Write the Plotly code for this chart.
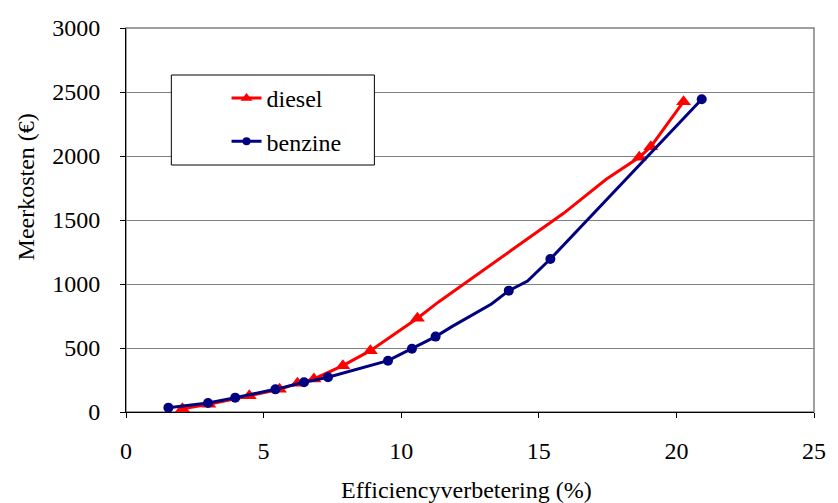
import plotly.graph_objects as go

# Diesel series (red, triangles); marked = data point shown with a marker
diesel_x = [2.05, 3.01, 4.48, 5.58, 6.23, 6.83, 7.88, 8.88, 10.59, 11.37, 15.90, 17.45, 18.65, 19.07, 20.26]
diesel_y = [25, 60, 127, 177, 224, 258, 362, 479, 732, 862, 1552, 1818, 1990, 2073, 2424]
diesel_marked = [1, 1, 1, 1, 1, 1, 1, 1, 1, 0, 0, 0, 1, 1, 1]

# Benzine series (navy, circles)
benzine_x = [1.54, 2.98, 3.97, 5.43, 6.47, 7.34, 9.52, 10.39, 11.25, 11.84, 13.28, 13.91, 14.59, 15.42, 20.92]
benzine_y = [34, 70, 112, 177, 232, 271, 401, 494, 589, 667, 844, 948, 1023, 1195, 2443]
benzine_marked = [1, 1, 1, 1, 1, 1, 1, 1, 1, 0, 0, 1, 0, 1, 1]

x_ticks = [0, 5, 10, 15, 20, 25]
y_ticks = [0, 500, 1000, 1500, 2000, 2500, 3000]

FONT = "Liberation Serif, Times New Roman, serif"
FS = 24

fig = go.Figure()
fig.add_trace(go.Scatter(
    x=diesel_x, y=diesel_y, name="diesel", mode="lines+markers",
    line=dict(color="#FF0000", width=3),
    marker=dict(symbol="triangle-up", color="#FF0000", opacity=1,
                line=dict(width=0),
                size=[13 if m else 0 for m in diesel_marked]),
    legendgroup="d",
))
fig.add_trace(go.Scatter(
    x=benzine_x, y=benzine_y, name="benzine", mode="lines+markers",
    line=dict(color="#000080", width=3),
    marker=dict(symbol="circle", color="#000080", opacity=1,
                line=dict(width=0),
                size=[10 if m else 0 for m in benzine_marked]),
    legendgroup="b",
))

# plot-area border (grey) and legend box
fig.add_shape(type="rect", xref="x domain", yref="y domain", x0=0, x1=1, y0=0, y1=1,
              line=dict(color="#808080", width=1.5), layer="below")
fig.add_shape(type="rect", xref="paper", yref="paper",
              x0=(172 - 126) / 698, x1=(378 - 126) / 698,
              y0=(412 - 165) / 384, y1=(412 - 75) / 384,
              line=dict(color="#000000", width=1), fillcolor="white", layer="above")

fig.update_layout(
    width=838, height=503,
    margin=dict(l=126, r=14, t=28, b=91),
    paper_bgcolor="white", plot_bgcolor="white",
    font=dict(family=FONT, size=FS, color="black"),
    showlegend=True,
    legend=dict(x=(228 - 126) / 698, y=(412 - 76) / 384, xanchor="left", yanchor="top",
                bgcolor="rgba(0,0,0,0)", borderwidth=0, tracegroupgap=9,
                font=dict(family=FONT, size=FS, color="black")),
    xaxis=dict(range=[0, 25], tickvals=x_ticks, ticktext=[str(v) for v in x_ticks],
               showgrid=False, zeroline=False, showline=True, linecolor="black", linewidth=1,
               ticks="outside", ticklen=5, tickcolor="black", tickwidth=1,
               ticklabelstandoff=12, tickfont=dict(family=FONT, size=FS)),
    yaxis=dict(range=[0, 3000], tickvals=y_ticks, ticktext=[str(v) for v in y_ticks],
               showgrid=True, gridcolor="#808080", gridwidth=1, zeroline=False,
               showline=True, linecolor="black", linewidth=1,
               ticks="outside", ticklen=5, tickcolor="black", tickwidth=1,
               ticklabelstandoff=15, tickfont=dict(family=FONT, size=FS)),
    annotations=[
        dict(text="Meerkosten (€)", xref="paper", yref="paper",
             x=(25 - 126) / 698, y=(412 - 187) / 384, xanchor="center", yanchor="middle",
             textangle=-90, showarrow=False, font=dict(family=FONT, size=FS)),
        dict(text="Efficiencyverbetering (%)", xref="paper", yref="paper",
             x=(471.5 - 126) / 698, y=(412 - 490) / 384, xanchor="center", yanchor="middle",
             showarrow=False, font=dict(family=FONT, size=FS)),
    ],
)

fig.write_html("out.html")
